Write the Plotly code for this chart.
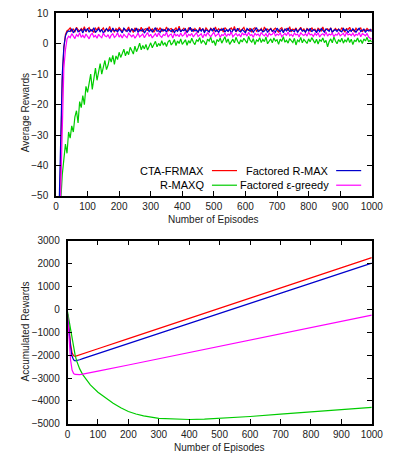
import plotly.graph_objects as go

# ---------------- data ----------------
episodes = list(range(5, 1001, 5))

cta_frmax = [-80, -62, -38, -12, -1.5, 3.0, 4.3, 4.6,
    5.2, 4.0, 4.9, 3.8, 5.4, 4.6, 4.1, 5.0, 4.4, 5.6,
    3.9, 4.8, 5.3, 4.2, 4.7, 3.7, 5.1, 4.5, 5.5, 4.0,
    4.6, 5.2, 3.9, 4.9, 4.3, 5.7, 4.1, 4.8, 3.8, 5.0,
    4.4, 5.3, 4.7, 3.9, 5.1, 4.2, 4.6, 5.5, 4.0, 4.9,
    3.7, 5.2, 4.5, 4.8, 4.1, 5.4, 3.9, 4.7, 5.0, 4.3,
    5.6, 4.2, 4.9, 3.8, 4.6, 5.1, 4.4, 5.3, 4.0, 4.7,
    4.3, 5.5, 4.1, 4.8, 5.0, 3.9, 4.6, 5.2, 4.2, 5.8,
    4.0, 4.7, 5.1, 4.3, 3.8, 5.3, 4.6, 4.9, 4.1, 5.0,
    4.5, 3.7, 5.4, 4.4, 4.8, 4.0, 5.2, 4.6, 3.9, 5.1,
    4.7, 4.2, 5.5, 4.0, 4.9, 4.4, 5.0, 3.8, 5.3, 4.5,
    4.1, 4.8, 5.2, 4.3, 5.7, 3.9, 4.6, 5.0, 4.2, 4.8,
    5.4, 4.0, 4.7, 4.4, 5.1, 3.8, 4.9, 5.3, 4.1, 4.6,
    4.3, 5.0, 3.9, 5.5, 4.5, 4.8, 4.2, 5.2, 4.0, 4.7,
    5.1, 4.4, 3.7, 4.9, 5.3, 4.1, 4.6, 5.0, 4.3, 5.6,
    3.9, 4.8, 4.5, 5.2, 4.0, 4.7, 5.4, 4.2, 4.9, 3.8,
    5.0, 4.6, 4.1, 5.3, 4.4, 4.8, 3.9, 5.1, 4.5, 4.2,
    5.5, 4.0, 4.7, 4.9, 4.3, 5.2, 3.8, 4.6, 5.0, 4.4,
    4.8, 4.1, 5.3, 4.5, 3.9, 5.0, 4.7, 5.4, 4.2, 4.6,
    4.0, 5.1, 4.4, 4.8, 5.2, 3.9, 4.7, 4.3, 5.0, 4.5,
    4.1, 4.8]

factored_rmax = [-75, -55, -33, -10, -1.0, 2.5, 3.8, 4.2,
    4.0, 4.9, 3.6, 4.5, 5.1, 3.9, 4.4, 4.7, 3.5, 4.8,
    4.2, 5.0, 3.8, 4.6, 4.1, 5.3, 3.7, 4.4, 4.9, 4.0,
    4.7, 3.5, 4.3, 5.0, 4.1, 4.6, 3.8, 5.2, 4.2, 4.5,
    3.9, 4.8, 4.3, 3.6, 5.1, 4.4, 4.0, 4.7, 3.8, 4.9,
    4.5, 4.1, 5.2, 3.7, 4.6, 4.2, 4.8, 3.5, 4.4, 5.0,
    4.0, 4.7, 3.9, 4.5, 5.3, 4.1, 4.3, 3.7, 4.9, 4.2,
    4.6, 3.8, 5.0, 4.4, 4.0, 4.8, 3.6, 4.5, 4.1, 5.1,
    3.9, 4.6, 4.3, 4.9, 3.7, 4.4, 5.4, 4.0, 4.7, 4.2,
    4.5, 3.8, 4.8, 4.1, 5.0, 3.6, 4.6, 4.3, 3.9, 4.9,
    4.2, 5.2, 4.0, 4.5, 3.7, 4.7, 4.4, 5.0, 3.8, 4.6,
    4.1, 4.9, 3.5, 4.4, 4.8, 4.0, 5.1, 4.2, 3.9, 4.7,
    4.3, 3.6, 5.0, 4.5, 4.1, 4.8, 3.8, 4.6, 5.3, 4.0,
    4.4, 4.7, 3.9, 4.2, 5.0, 3.7, 4.5, 4.9, 4.1, 4.3,
    3.8, 5.1, 4.4, 4.0, 4.7, 3.6, 4.8, 4.2, 5.2, 3.9,
    4.6, 4.3, 4.0, 4.9, 3.7, 4.5, 5.0, 4.1, 4.4, 3.8,
    4.8, 4.2, 5.1, 3.9, 4.6, 4.4, 3.6, 4.7, 4.0, 5.0,
    4.3, 3.8, 4.9, 4.5, 4.1, 5.2, 3.7, 4.4, 4.6, 4.0,
    4.8, 4.2, 3.9, 5.0, 4.3, 4.7, 3.6, 4.5, 4.1, 4.9,
    4.4, 3.8, 4.6, 5.1, 4.0, 4.3, 4.8, 3.7, 4.5, 4.2,
    4.7, 4.0]

rmaxq = [-75, -62, -52, -43, -38, -33, -36, -29, -31, -27,
    -29, -24, -22, -26, -19, -21, -17, -20, -14, -16,
    -13, -10, -15, -11, -8, -12, -9, -6.5, -10, -8,
    -5.5, -8.5, -7, -4.5, -6, -3.8, -6.8, -4, -5.2, -2.8,
    -4.5, -3.2, -1.8, -4, -2.5, -3.6, -1.2, -2.2, -3.4, -0.8,
    -2.6, -1.4, 0.2, -2.0, -0.6, -1.7, -0.2, -2.1, -0.9, 0.3,
    -1.3, -0.4, 0.8, -1.0, 0.1, -0.7, 1.0, -0.5, 0.4, -0.9,
    0.6, 1.2, -0.4, 0.3, 1.4, -0.6, 0.9, 0.1, 1.6, -0.2,
    0.7, 1.3, -0.5, 1.0, 0.2, 1.8, 0.5, -0.3, 1.2, 0.8,
    2.0, 0.1, 1.1, 0.6, -0.4, 1.5, 0.9, 2.2, 0.3, 1.0,
    -0.6, 1.4, 0.7, 1.9, 0.2, 1.1, 2.3, 0.4, 1.6, -0.2,
    0.9, 1.5, 0.3, 2.1, 0.8, -0.1, 1.3, 0.6, 1.8, 1.0,
    0.2, 2.4, 1.1, 0.5, 1.7, -0.3, 1.2, 0.8, 2.0, 0.4,
    1.4, 0.7, 2.2, 0.0, 1.0, 1.6, 0.3, 1.9, 0.9, 1.3,
    -0.2, 1.5, 0.8, 2.3, 0.5, 1.1, 0.2, 1.7, 1.0, 0.4,
    1.8, -0.4, 1.2, 0.7, 2.1, 0.3, 1.4, 0.9, 0.1, 1.6,
    0.6, 2.0, 1.0, 0.2, 1.5, -0.1, 1.3, 0.8, 1.9, 0.4,
    1.1, -1.0, 0.7, 1.6, 0.3, 2.2, 0.9, 0.0, 1.4, 0.6,
    1.8, 0.2, 1.2, 0.7, 2.0, 0.4, 1.5, -0.3, 1.1, 0.8,
    1.9, 0.5, 1.3, 0.1, 1.6, 0.9, 2.1, 0.6, 1.2, 0.5]

factored_egreedy = [-90, -70, -48, -25, -8, -2, 1.5, 2.5,
    2.0, 3.3, 2.6, 1.7, 3.0, 2.4, 3.6, 2.1, 2.8, 1.9,
    3.2, 2.5, 1.6, 2.9, 3.4, 2.2, 2.7, 1.8, 3.1, 2.4,
    2.0, 3.5, 2.6, 2.3, 3.0, 1.7, 2.8, 3.3, 2.1, 2.6,
    3.6, 2.2, 2.9, 1.9, 3.1, 2.5, 2.0, 3.4, 2.7, 2.3,
    3.0, 1.8, 2.6, 3.5, 2.2, 2.9, 3.2, 2.0, 2.7, 3.7,
    2.4, 3.1, 1.9, 2.8, 3.3, 2.3, 3.6, 2.6, 2.1, 3.0,
    2.7, 3.8, 2.2, 2.9, 3.2, 1.9, 3.4, 2.6, 3.0, 2.3,
    3.5, 2.5, 2.9, 3.9, 2.1, 3.1, 2.7, 3.4, 2.2, 3.0,
    3.6, 2.4, 2.8, 3.3, 2.0, 3.2, 2.6, 3.7, 2.9, 2.3,
    3.1, 3.8, 2.5, 2.9, 3.4, 2.1, 3.0, 2.7, 3.5, 2.4,
    3.2, 2.8, 3.9, 2.3, 3.0, 3.4, 2.6, 3.1, 2.2, 3.6,
    2.9, 3.3, 2.5, 3.8, 2.7, 3.0, 2.1, 3.4, 2.8, 3.2,
    2.4, 3.7, 3.0, 2.6, 3.3, 2.2, 3.5, 2.9, 3.1, 4.0,
    2.5, 3.2, 2.8, 3.6, 2.3, 3.0, 3.4, 2.7, 3.9, 2.6,
    3.1, 2.4, 3.5, 2.9, 3.2, 2.2, 3.7, 3.0, 2.7, 3.3,
    2.5, 3.8, 2.9, 3.1, 2.4, 3.4, 2.8, 3.6, 2.2, 3.0,
    3.3, 2.7, 3.9, 2.5, 3.2, 2.9, 3.5, 2.3, 3.1, 2.8,
    3.6, 2.6, 3.0, 3.4, 2.4, 3.8, 2.9, 3.2, 2.7, 3.5,
    2.5, 3.1, 2.8, 3.7, 2.3, 3.3, 3.0, 2.6, 3.4, 2.2,
    1.8, 1.5]

# accumulated rewards (bottom panel)
acc_x_red = [0, 5, 10, 15, 20, 25, 30, 50, 100, 200, 300, 400, 500, 600, 700, 800, 900, 1000]
acc_red = [-200, -900, -1500, -1900, -2030, -2050, -2030, -1940, -1720, -1280, -840, -390, 50, 490, 940, 1380, 1820, 2260]

acc_x_blue = [0, 5, 10, 15, 20, 25, 30, 40, 50, 100, 200, 300, 400, 500, 600, 700, 800, 900, 1000]
acc_blue = [-200, -1000, -1650, -2050, -2200, -2250, -2240, -2200, -2150, -1930, -1490, -1050, -610, -170, 270, 710, 1140, 1580, 2020]

acc_x_green = [0, 5, 10, 15, 20, 25, 30, 40, 50, 75, 100, 125, 150, 175, 200, 225, 250, 300, 350, 400, 450, 500, 600, 700, 800, 900, 1000]
acc_green = [-100, -500, -950, -1350, -1700, -2000, -2250, -2600, -2850, -3300, -3620, -3880, -4100, -4300, -4460, -4570, -4650, -4760, -4800, -4810, -4790, -4760, -4680, -4580, -4490, -4390, -4280]

acc_x_mag = [0, 5, 10, 15, 20, 25, 30, 40, 50, 75, 100, 200, 300, 400, 500, 600, 700, 800, 900, 1000]
acc_mag = [-200, -1300, -2200, -2650, -2800, -2840, -2850, -2850, -2830, -2770, -2700, -2430, -2160, -1890, -1610, -1340, -1070, -790, -520, -250]

series_names = ["CTA-FRMAX", "Factored R-MAX", "R-MAXQ", "Factored ε-greedy"]
top_x_ticks = [0, 100, 200, 300, 400, 500, 600, 700, 800, 900, 1000]
top_y_ticks = [-50, -40, -30, -20, -10, 0, 10]
bot_y_ticks = [-5000, -4000, -3000, -2000, -1000, 0, 1000, 2000, 3000]

for s in (cta_frmax, factored_rmax, rmaxq, factored_egreedy):
    assert len(s) == len(episodes), len(s)

# ---------------- styles ----------------
colors = ["#ff0000", "#0000cc", "#00cc00", "#ff00ff"]
FONT = "Liberation Sans, Arial, Helvetica, sans-serif"
W, H = 404, 461

def px(x):
    return x / W

def py(y):
    return 1 - y / H

fig = go.Figure()

top_series = [cta_frmax, factored_rmax, rmaxq, factored_egreedy]
for name, ys, c in zip(series_names, top_series, colors):
    fig.add_trace(go.Scatter(x=episodes, y=ys, mode="lines", name=name,
                             line=dict(color=c, width=1.2), xaxis="x", yaxis="y",
                             showlegend=False))

bottom = [(acc_x_red, acc_red), (acc_x_blue, acc_blue), (acc_x_green, acc_green), (acc_x_mag, acc_mag)]
for name, (xs, ys), c in zip(series_names, bottom, colors):
    fig.add_trace(go.Scatter(x=xs, y=ys, mode="lines", name=name,
                             line=dict(color=c, width=1.2),
                             xaxis="x2", yaxis="y2", showlegend=False))

axis_common = dict(showline=True, linecolor="black", linewidth=1.5, mirror="allticks",
                   ticks="inside", ticklen=5, tickwidth=1, tickcolor="black",
                   showgrid=False, zeroline=False,
                   tickfont=dict(family=FONT, size=10, color="#222"))

fig.update_layout(
    width=W, height=H, margin=dict(l=0, r=0, t=0, b=0),
    paper_bgcolor="white", plot_bgcolor="white",
    xaxis=dict(domain=[px(55), px(383)], range=[0, 1000], tickvals=top_x_ticks,
               anchor="y", **axis_common),
    yaxis=dict(domain=[py(195), py(7.5)], range=[-50, 10], tickvals=top_y_ticks,
               anchor="x", ticklabelstandoff=4, **axis_common),
    xaxis2=dict(domain=[px(67), px(383)], range=[0, 1000], tickvals=top_x_ticks,
                anchor="y2", **axis_common),
    yaxis2=dict(domain=[py(429), py(241)], range=[-5000, 3000], tickvals=bot_y_ticks,
                anchor="x2", ticklabelstandoff=4, **axis_common),
    showlegend=False,
)

title_font = dict(family=FONT, size=10, color="#222")
ann = [
    dict(text="Average Rewards", x=px(23), y=py(110), textangle=-90),
    dict(text="Number of Episodes", x=px(219), y=py(219)),
    dict(text="Accumulated Rewards", x=px(23), y=py(334), textangle=-90),
    dict(text="Number of Episodes", x=px(225), y=py(453)),
]
for a in ann:
    fig.add_annotation(xref="paper", yref="paper", showarrow=False,
                       xanchor="center", yanchor="middle", font=title_font, **a)

# legend inside top panel (text right-aligned, sample line to the right)
leg_pos = [(211, 217, 243, 169), (341, 346, 372, 169), (211, 217, 243, 184), (341, 346, 372, 184)]
for name, c, (tx, l0, l1, yy) in zip(series_names, colors, leg_pos):
    fig.add_annotation(xref="paper", yref="paper", x=px(tx), y=py(yy), text=name,
                       showarrow=False, xanchor="right", yanchor="middle",
                       font=dict(family=FONT, size=11, color="black"))
    fig.add_shape(type="line", xref="paper", yref="paper", x0=px(l0), x1=px(l1),
                  y0=py(yy), y1=py(yy), line=dict(color=c, width=1.2))

fig.write_html("out.html", config={"displayModeBar": False},
               post_script="document.body.style.margin='0';document.body.style.overflow='hidden';")
